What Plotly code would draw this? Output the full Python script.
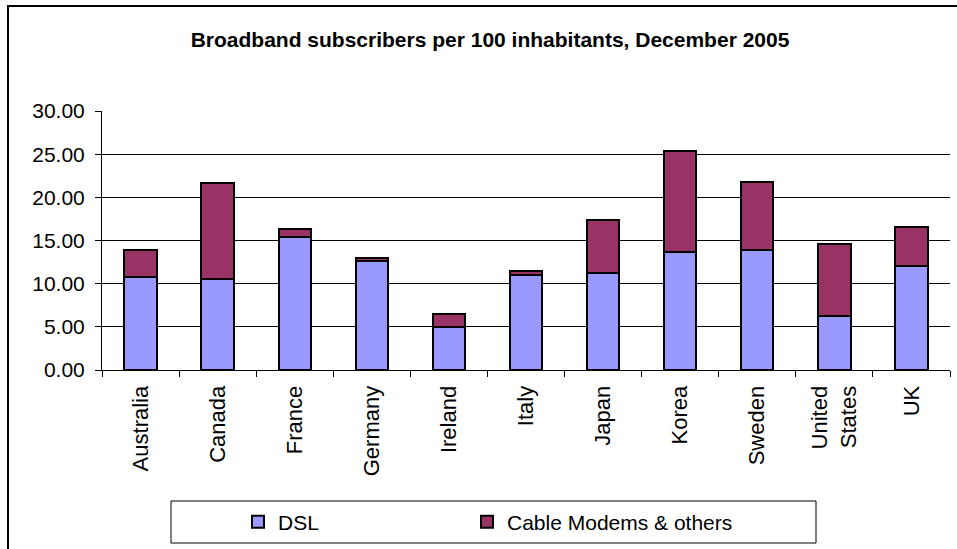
import plotly.graph_objects as go

countries = ["Australia", "Canada", "France", "Germany", "Ireland", "Italy",
             "Japan", "Korea", "Sweden", "United<br>States", "UK"]
dsl = [10.80, 10.57, 15.43, 12.65, 5.02, 11.03, 11.23, 13.62, 13.85, 6.21, 12.00]
cable = [3.05, 11.13, 0.93, 0.27, 1.42, 0.43, 6.13, 11.76, 7.87, 8.33, 4.59]
y_ticks = [0, 5, 10, 15, 20, 25, 30]

FONT = "Arial, 'Liberation Sans', sans-serif"

fig = go.Figure()
fig.add_trace(go.Bar(x=countries, y=dsl, name="DSL", legend="legend",
                     marker=dict(color="#9999FF", line=dict(color="black", width=2))))
fig.add_trace(go.Bar(x=countries, y=cable, name="Cable Modems & others", legend="legend2",
                     marker=dict(color="#993366", line=dict(color="black", width=2))))

W, H = 957, 549
L, R, T, B = 102, 950, 111, 370
pw, ph = R - L, B - T

def px(x):
    return (x - L) / pw

def py(y):
    return (B - y) / ph

leg_common = dict(orientation="h", y=py(522), xanchor="left", yanchor="middle",
                  bgcolor="rgba(0,0,0,0)", borderwidth=0,
                  font=dict(size=21, family=FONT))

fig.update_layout(
    width=W, height=H,
    margin=dict(l=L, r=W - R, t=T, b=H - B),
    barmode="stack", bargap=0.58,
    paper_bgcolor="white", plot_bgcolor="white",
    font=dict(family=FONT, color="black", size=20),
    title=dict(text="<b>Broadband subscribers per 100 inhabitants, December 2005</b>",
               x=490 / W, xref="container", xanchor="center",
               y=1 - 40 / H, yref="container", yanchor="middle",
               font=dict(size=21, family=FONT, color="black")),
    showlegend=True,
    legend=dict(x=px(238), **leg_common),
    legend2=dict(x=px(467), **leg_common),
    shapes=[
        dict(type="rect", xref="paper", yref="paper",
             x0=px(8), x1=px(962), y0=py(555), y1=py(6),
             line=dict(color="black", width=2), fillcolor="rgba(0,0,0,0)", layer="below"),
        dict(type="rect", xref="paper", yref="paper",
             x0=px(171), x1=px(816), y0=py(543), y1=py(501),
             line=dict(color="black", width=1), fillcolor="rgba(0,0,0,0)"),
    ],
)

fig.update_yaxes(range=[0, 30], tickvals=y_ticks, tickformat=".2f",
                 showgrid=True, gridcolor="black", gridwidth=1,
                 showline=True, linecolor="black", linewidth=1,
                 ticks="outside", ticklen=6, tickcolor="black",
                 ticklabelstandoff=6, zeroline=False,
                 tickfont=dict(size=21, family=FONT))
fig.update_xaxes(type="category", tickangle=-90, tickson="boundaries",
                 showline=True, linecolor="black", linewidth=1,
                 ticks="outside", ticklen=6, tickcolor="black",
                 ticklabelstandoff=6, showgrid=False,
                 tickfont=dict(size=22, family=FONT))

fig.write_html("out.html")
